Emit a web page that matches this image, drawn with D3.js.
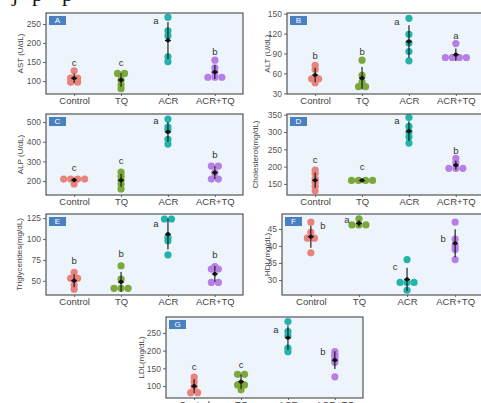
<!DOCTYPE html>
<html><head><meta charset="utf-8">
<script src="https://cdn.jsdelivr.net/npm/d3@7"></script>
<style>
html,body{margin:0;padding:0;background:#fff;}
svg{display:block;font-family:"Liberation Sans",Arial,sans-serif;}
</style></head>
<body><svg id="c" width="481" height="403"></svg>
<script>
const categories = ["Control","TQ","ACR","ACR+TQ"];
const groupColors = ["#e9827c","#7aa83a","#22b3ab","#b67fe4"];

// values per group: Control, TQ, ACR, ACR+TQ
const astValues = [[127,108,108,97,97],[120,120,103,90,80],[268,232,219,164,151],[155,135,122,110,110,110]];
const altValues = [[72,66,52,52,46],[80,57,47,40,40],[143,119,106,93,79],[105,84,84,84,84]];
const alpValues = [[210,210,210,210,185],[245,225,205,185,160],[515,475,460,412,388],[276,276,242,210,210]];
const cholValues = [[190,180,165,155,143,130],[160,160,160,160],[342,316,300,286,268],[224,212,195,195,195]];
const tgValues = [[60,53,53,45,40],[68,52,41,41,41],[124,124,102,98,81],[67,64,64,48,48]];
const hdlValues = [[47,44,42.3,42.3,38],[48,46.2,46.2,46.2],[36,29.3,29.3,29.3,27],[47,42,40,39,36]];
const ldlValues = [[125,112,98,81,81],[133,133,103,103,89],[282,254,242,207,197],[197,190,183,175,167,126]];

// significance letters and where they sit (value, side)
const astLetters = [["c",147,"top"],["c",147,"top"],["a",258,"left"],["b",176,"top"]];
const altLetters = [["b",85,"top"],["b",92,"top"],["a",137,"left"],["a",116,"top"]];
const alpLetters = [["c",266,"top"],["c",297,"top"],["a",505,"left"],["b",332,"top"]];
const cholLetters = [["c",218,"top"],["c",197,"top"],["a",329,"left"],["b",244,"top"]];
const tgLetters = [["b",73,"top"],["b",81,"top"],["a",117,"left"],["b",80,"top"]];
const hdlLetters = [["b",45.6,"right"],["a",47.4,"left"],["c",33.8,"left"],["b",42,"left"]];
const ldlLetters = [["c",151,"top"],["c",159,"top"],["a",256,"left"],["b",196,"left"]];

// axis domains and ticks
const astDomain=[66,279], astTicks=[100,150,200,250];
const altDomain=[29,151], altTicks=[30,60,90,120,150];
const alpDomain=[129,541], alpTicks=[200,300,400,500];
const cholDomain=[118,352], cholTicks=[150,200,250,300,350];
const tgDomain=[33,130], tgTicks=[50,75,100,125];
const hdlDomain=[25.6,49.4], hdlTicks=[30,35,40,45];
const ldlDomain=[66,295], ldlTicks=[100,150,200,250];

const panels = [
  {tag:"A", title:"AST (U/dL)", values:astValues, letters:astLetters, domain:astDomain, ticks:astTicks, x0:46,x1:243,y0:13,y1:94, tx:21},
  {tag:"B", title:"ALT (U/dL)", values:altValues, letters:altLetters, domain:altDomain, ticks:altTicks, x0:287,x1:484,y0:13,y1:94, tx:268},
  {tag:"C", title:"ALP (U/dL)", values:alpValues, letters:alpLetters, domain:alpDomain, ticks:alpTicks, x0:46,x1:243,y0:114,y1:195, tx:21},
  {tag:"D", title:"Cholesterol(mg/dL)", values:cholValues, letters:cholLetters, domain:cholDomain, ticks:cholTicks, x0:287,x1:484,y0:114,y1:195, tx:256},
  {tag:"E", title:"Triglycerides(mg/dL)", values:tgValues, letters:tgLetters, domain:tgDomain, ticks:tgTicks, x0:46,x1:243,y0:214,y1:295, tx:20},
  {tag:"F", title:"HDL(mg/dL)", values:hdlValues, letters:hdlLetters, domain:hdlDomain, ticks:hdlTicks, x0:282,x1:484,y0:214,y1:295, tx:268},
  {tag:"G", title:"LDL(mg/dL)", values:ldlValues, letters:ldlLetters, domain:ldlDomain, ticks:ldlTicks, x0:166,x1:363,y0:317,y1:398, tx:142}
];

const svg = d3.select("#c");

// cut-off text from the page above
svg.append("g").attr("font-family","'Liberation Serif',serif").attr("font-size",22).attr("fill","#111")
  .selectAll("text").data([[12,"j"],[32,"p"],[62,"p"]]).join("text")
  .attr("x",d=>d[0]).attr("y",1).text(d=>d[1]);

panels.forEach(p=>{
  const g = svg.append("g");
  const x = d3.scalePoint().domain(categories).range([p.x0,p.x1]).padding(0.6);
  const y = d3.scaleLinear().domain(p.domain).range([p.y1,p.y0]);

  g.append("rect").attr("x",p.x0).attr("y",p.y0).attr("width",p.x1-p.x0).attr("height",p.y1-p.y0)
    .attr("fill","#eef4fb");

  // axes
  const ya = g.append("g").attr("transform",`translate(${p.x0},0)`)
    .call(d3.axisLeft(y).tickValues(p.ticks).tickSize(3).tickPadding(2).tickFormat(d3.format("d")));
  ya.select(".domain").remove();
  ya.selectAll("line").attr("stroke","#666");
  ya.selectAll("text").attr("fill","#555").attr("font-size",8.5).attr("font-family","'Liberation Sans',Arial,sans-serif");

  const xa = g.append("g").attr("transform",`translate(0,${p.y1})`)
    .call(d3.axisBottom(x).tickSize(2).tickPadding(1));
  xa.select(".domain").remove();
  xa.selectAll("line").attr("stroke","#666");
  xa.selectAll("text").attr("fill","#444").attr("font-size",9.5).attr("font-family","'Liberation Sans',Arial,sans-serif");

  g.append("text").attr("transform",`translate(${p.tx},${(p.y0+p.y1)/2}) rotate(-90)`)
    .attr("text-anchor","middle").attr("dominant-baseline","middle")
    .attr("font-size",8).attr("fill","#444").text(p.title);

  // dots (center-stacked for equal values)
  const dots=[];
  p.values.forEach((vals,gi)=>{
    const counts=d3.rollup(vals,v=>v.length,v=>v);
    const seen=new Map();
    vals.forEach(v=>{
      const n=counts.get(v); const i=seen.get(v)||0; seen.set(v,i+1);
      dots.push({gi, v, off:(i-(n-1)/2)*7});
    });
  });
  g.append("g").selectAll("circle").data(dots).join("circle")
    .attr("cx",d=>x(categories[d.gi])+d.off).attr("cy",d=>y(d.v)).attr("r",3.6)
    .attr("fill",d=>groupColors[d.gi]);

  // mean ± sd
  const stats = p.values.map((vals,gi)=>({gi, m:d3.mean(vals), s:d3.deviation(vals)||0}));
  const sg = g.append("g");
  sg.selectAll("line.eb").data(stats).join("line").attr("class","eb")
    .attr("x1",d=>x(categories[d.gi])).attr("x2",d=>x(categories[d.gi]))
    .attr("y1",d=>y(d.m-d.s)).attr("y2",d=>y(d.m+d.s)).attr("stroke","#111").attr("stroke-width",1.1);
  sg.selectAll("line.mb").data(stats).join("line").attr("class","mb")
    .attr("x1",d=>x(categories[d.gi])-3).attr("x2",d=>x(categories[d.gi])+3)
    .attr("y1",d=>y(d.m)).attr("y2",d=>y(d.m)).attr("stroke","#111").attr("stroke-width",1.2);
  sg.selectAll("circle").data(stats).join("circle")
    .attr("cx",d=>x(categories[d.gi])).attr("cy",d=>y(d.m)).attr("r",2.1).attr("fill","#111");

  // letters
  g.append("g").selectAll("text").data(p.letters).join("text")
    .attr("x",(d,i)=>x(categories[i]) + (d[2]==="left"?-12:d[2]==="right"?12:0))
    .attr("y",d=>y(d[1])).attr("text-anchor","middle").attr("dominant-baseline","middle")
    .attr("font-size",9.5).attr("fill","#333").text(d=>d[0]);

  // frame
  g.append("rect").attr("x",p.x0).attr("y",p.y0).attr("width",p.x1-p.x0).attr("height",p.y1-p.y0)
    .attr("fill","none").attr("stroke","#555").attr("stroke-width",1.2);

  // tag badge
  g.append("rect").attr("x",p.x0+3).attr("y",p.y0+3).attr("width",17).attr("height",9).attr("fill","#4a7fc0");
  g.append("text").attr("x",p.x0+11.5).attr("y",p.y0+7.8).attr("text-anchor","middle").attr("dominant-baseline","middle")
    .attr("font-size",8).attr("fill","#fff").text(p.tag);
});
</script></body></html>
